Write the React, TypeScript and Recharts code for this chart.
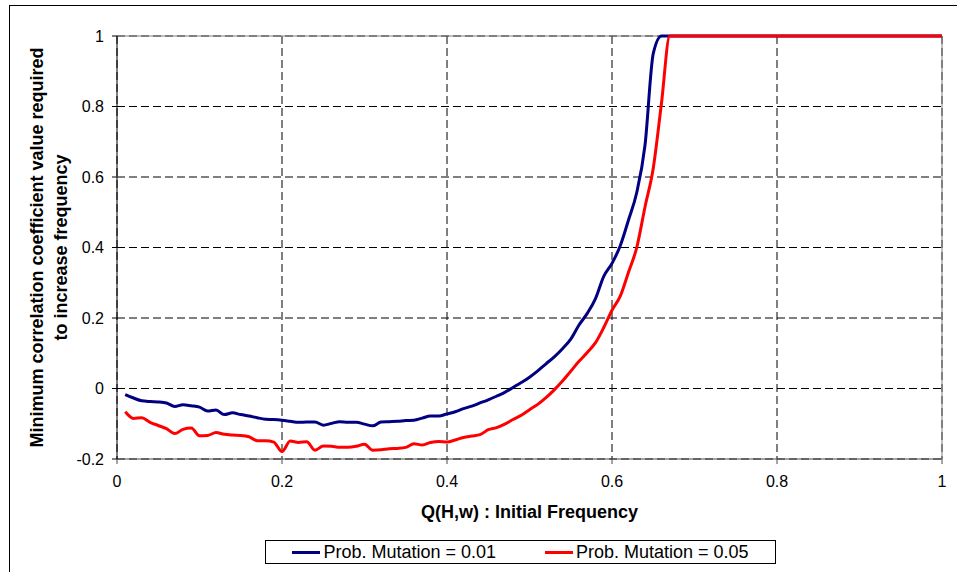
import {
  LineChart,
  Line,
  XAxis,
  YAxis,
  CartesianGrid,
  ReferenceLine,
  Legend,
  Label,
} from 'recharts';

const FONT = '"Liberation Sans", Arial, Helvetica, sans-serif';

// Q(H,w) sample points; both curves stay at 1 after they saturate
const Q_VALUES = [
  0.01, 0.02, 0.03, 0.04, 0.05, 0.06, 0.07, 0.08, 0.09, 0.1,
  0.11, 0.12, 0.13, 0.14, 0.15, 0.16, 0.17, 0.18, 0.19, 0.2,
  0.21, 0.22, 0.23, 0.24, 0.25, 0.26, 0.27, 0.28, 0.29, 0.3,
  0.31, 0.32, 0.33, 0.34, 0.35, 0.36, 0.37, 0.38, 0.39, 0.4,
  0.41, 0.42, 0.43, 0.44, 0.45, 0.46, 0.47, 0.48, 0.49, 0.5,
  0.51, 0.52, 0.53, 0.54, 0.55, 0.56, 0.57, 0.58, 0.59, 0.6,
  0.61, 0.62, 0.63, 0.64, 0.65, 0.66, 0.67, 1,
];

const MUTATION_001 = [
  -0.017, -0.027, -0.035, -0.037, -0.038, -0.041, -0.051, -0.046, -0.049, -0.053,
  -0.064, -0.061, -0.074, -0.069, -0.074, -0.078, -0.083, -0.087, -0.088, -0.09,
  -0.093, -0.096, -0.095, -0.095, -0.104, -0.099, -0.094, -0.096, -0.096, -0.101,
  -0.106, -0.095, -0.094, -0.093, -0.091, -0.09, -0.084, -0.078, -0.078, -0.072,
  -0.066, -0.057, -0.05, -0.041, -0.032, -0.022, -0.011, 0.003, 0.017, 0.032,
  0.05, 0.07, 0.09, 0.113, 0.14, 0.18, 0.213, 0.255, 0.318, 0.355,
  0.405, 0.478, 0.556, 0.69, 0.95, 1, 1, 1,
];

const MUTATION_005 = [
  -0.066, -0.085, -0.083, -0.096, -0.105, -0.114, -0.128, -0.116, -0.112, -0.134,
  -0.133, -0.125, -0.13, -0.132, -0.133, -0.137, -0.148, -0.148, -0.152, -0.179,
  -0.149, -0.153, -0.151, -0.175, -0.163, -0.164, -0.167, -0.167, -0.164, -0.158,
  -0.175, -0.174, -0.171, -0.17, -0.167, -0.157, -0.16, -0.153, -0.15, -0.152,
  -0.146, -0.139, -0.135, -0.131, -0.117, -0.111, -0.101, -0.088, -0.076, -0.06,
  -0.045, -0.026, -0.004, 0.021, 0.049, 0.077, 0.102, 0.13, 0.173, 0.222,
  0.262, 0.33, 0.4, 0.515, 0.625, 0.81, 1, 1,
];

const X_TICKS = [0, 0.2, 0.4, 0.6, 0.8, 1];
const Y_TICKS = [-0.2, 0, 0.2, 0.4, 0.6, 0.8, 1];
const SERIES_NAMES = ['Prob. Mutation = 0.01', 'Prob. Mutation = 0.05'];
const X_TITLE = 'Q(H,w) : Initial Frequency';
const Y_TITLE = ['Minimum correlation coefficient value required', 'to increase frequency'];

const COLORS = { low: '#000080', high: '#ff0000', grid: '#000', border: '#808080' };

const data = Q_VALUES.map((q, i) => ({ q, low: MUTATION_001[i], high: MUTATION_005[i] }));

const fmtTick = (v: number) => String(Math.round(v * 10) / 10);

function YTitle(props: any) {
  const { x, y, width, height } = props.viewBox;
  const cy = y + height / 2;
  const right = x + width;
  return (
    <g fontFamily={FONT} fontSize={18} fontWeight="bold" fill="#000">
      {Y_TITLE.map((line, i) => {
        const bx = right - 74 + i * 24;
        return (
          <text key={i} x={bx} y={cy} textAnchor="middle" transform={`rotate(-90, ${bx}, ${cy})`}>
            {line}
          </text>
        );
      })}
    </g>
  );
}

function XTitle(props: any) {
  const { x, y, width } = props.viewBox;
  return (
    <text
      x={x + width / 2}
      y={y + 59}
      textAnchor="middle"
      fontFamily={FONT}
      fontSize={18}
      fontWeight="bold"
      fill="#000"
    >
      {X_TITLE}
    </text>
  );
}

function LegendBox(props: any) {
  const items = props.payload || [];
  return (
    <div
      style={{
        boxSizing: 'border-box',
        width: '100%',
        height: 24,
        border: '1px solid #000',
        background: '#fff',
        display: 'flex',
        alignItems: 'center',
        justifyContent: 'center',
        gap: 49,
        fontFamily: FONT,
        fontSize: 18,
        color: '#000',
        lineHeight: '22px',
      }}
    >
      {items.map((it: any) => (
        <span key={it.value} style={{ display: 'flex', alignItems: 'center' }}>
          <span
            style={{ display: 'inline-block', width: 28, height: 3, background: it.color, marginRight: 3 }}
          />
          {it.value}
        </span>
      ))}
    </div>
  );
}

export default function App() {
  return (
    <div
      style={{
        position: 'absolute',
        left: 0,
        top: 0,
        width: 957,
        height: 572,
        overflow: 'hidden',
        background: '#fff',
      }}
    >
      <div
        style={{
          position: 'absolute',
          left: 9,
          top: 5,
          width: 1100,
          height: 1000,
          border: '1px solid #000',
        }}
      />
      <div style={{ position: 'absolute', left: 0, top: 0 }}>
        <LineChart width={957} height={572} data={data} margin={{ top: 36, right: 15, bottom: 83, left: 57 }}>
          <CartesianGrid stroke={COLORS.grid} strokeDasharray="8 4" />
          <XAxis
            type="number"
            dataKey="q"
            domain={[0, 1]}
            ticks={X_TICKS}
            interval={0}
            tickFormatter={fmtTick}
            height={30}
            tickSize={5}
            tickMargin={12}
            axisLine={{ stroke: '#4d4d4d' }}
            tickLine={{ stroke: '#4d4d4d' }}
            tick={{ fill: '#000', fontSize: 16, fontFamily: FONT }}
          >
            <Label content={XTitle} />
          </XAxis>
          <YAxis
            type="number"
            domain={[-0.2, 1]}
            ticks={Y_TICKS}
            interval={0}
            tickFormatter={fmtTick}
            width={60}
            tickSize={5}
            tickMargin={8}
            axisLine={{ stroke: '#000' }}
            tickLine={{ stroke: '#000' }}
            tick={{ fill: '#000', fontSize: 16, fontFamily: FONT }}
          >
            <Label content={YTitle} />
          </YAxis>
          <ReferenceLine y={1} stroke={COLORS.border} />
          <ReferenceLine x={1} stroke={COLORS.border} />
          <Legend
            layout="vertical"
            verticalAlign="middle"
            align="center"
            wrapperStyle={{ left: 265, top: 540, width: 511, height: 24 }}
            content={LegendBox}
          />
          {/* Excel used smoothed lines, monotone gets the rounded knee at the top */}
          <Line
            type="monotone"
            dataKey="low"
            name={SERIES_NAMES[0]}
            stroke={COLORS.low}
            strokeWidth={3}
            dot={false}
            isAnimationActive={false}
          />
          <Line
            type="monotone"
            dataKey="high"
            name={SERIES_NAMES[1]}
            stroke={COLORS.high}
            strokeWidth={3}
            dot={false}
            isAnimationActive={false}
          />
        </LineChart>
      </div>
    </div>
  );
}
